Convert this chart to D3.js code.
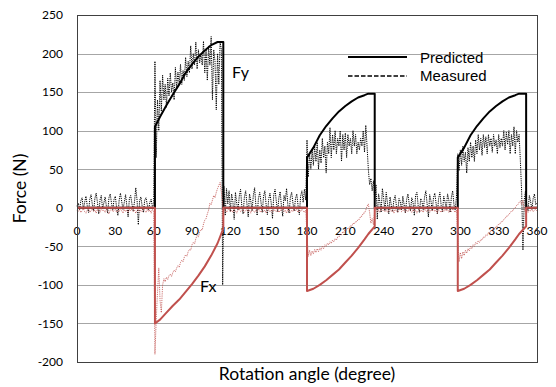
<!DOCTYPE html>
<html>
<head>
  <title>Force vs rotation angle</title>
  <style>
    body {
      margin: 0;
      background: #fff;
    }
    svg {
      display: block;
    }
    .tick-label {
      font: 12px Lato, sans-serif;
      fill: #000;
    }
    .axis-title {
      font: 17.5px Lato, sans-serif;
      fill: #000;
    }
    .curve-label {
      font: 16px Lato, sans-serif;
      fill: #000;
    }
    .legend-text {
      font: 15px "Liberation Sans", Arial, sans-serif;
      fill: #000;
    }
    .grid line {
      stroke: #a6a6a6;
      stroke-width: 1;
    }
  </style>
</head>
<body>
  <script src="https://d3js.org/d3.v7.min.js"></script>
  <script>
    const predAngles = [0, 61, 61, 65, 70, 75, 80, 85, 90, 95, 100, 105, 110, 114.5, 114.5,
      180, 180, 185, 190, 195, 200, 205, 210, 215, 220, 225, 228, 233, 233,
      298, 298, 303, 308, 313, 318, 323, 328, 333, 338, 343, 346, 351.5, 351.5, 360];
    const predFy = [0, 0, 105, 118, 133, 147, 160, 175, 186, 196, 204, 211, 215, 215, 0,
      0, 65, 78, 94, 106, 116, 125, 132, 138, 143, 146, 148, 148, 0,
      0, 65, 78, 94, 106, 116, 125, 132, 138, 143, 146, 148, 148, 0, 0];
    const predFx = [0, 0, -150, -145, -136, -127, -119, -109, -99, -88, -76, -62, -46, -27, 0,
      0, -108, -105, -100, -94, -87, -80, -71, -62, -52, -41, -34, -24, 0,
      0, -108, -105, -100, -94, -87, -80, -71, -62, -52, -41, -34, -24, 0, 0];

    // measured curves (dotted), one value per degree, 0..360
    const measuredFy = [
      2, 6, -3, 9, 13, -2, 7, 15, 3, -6,            // 0
      11, 17, 4, -4, 12, 19, 7, -8, 10, 16,         // 10
      -1, 6, 14, 2, -7, 13, 18, 6, -3, 11,          // 20
      15, 0, -10, 10, 19, 8, -2, 7, 17, 3,          // 30
      -12, 12, 16, 5, -4, 8, 26, 10, -22, 9,        // 40
      14, 2, -6, 10, 13, 4, -3, 7, 11, 2,           // 50
      3, 190, 65, 140, 100, 165, 125, 172, 140, 160, // 60
      130, 168, 145, 175, 150, 162, 140, 182, 155, 176, // 70
      160, 186, 160, 178, 165, 195, 170, 190, 175, 210, // 80
      180, 200, 185, 215, 180, 205, 188, 200, 185, 216, // 90
      175, 205, 165, 210, 185, 222, 140, 205, 190, 127, // 100
      200, 160, 215, 205, -100, 28, -10, 25, 5, 22,   // 110
      -5, 18, 8, -15, 20, 6, -3, 15, 24, 2,         // 120
      -8, 14, 22, 5, -12, 18, 9, -4, 16, 26,        // 130
      3, -10, 12, 20, 7, -6, 15, 22, 4, -9,         // 140
      11, 19, 6, -14, 17, 24, 8, -5, 13, 21,        // 150
      2, -11, 16, 9, 25, 4, -7, 14, 20, 6,          // 160
      -4, 12, 18, 3, -9, 15, 22, 7, 24, 10,         // 170
      88, 40, 70, 50, 75, 55, 80, 60, 85, 50,       // 180
      75, 58, 90, 65, 80, 45, 85, 70, 104, 65,      // 190
      95, 75, 100, 70, 90, 80, 100, 60, 95, 75,     // 200
      97, 65, 95, 80, 90, 70, 100, 80, 95, 70,      // 210
      85, 75, 90, 80, 100, 72, 107, 80, 50, 30,     // 220
      38, 22, 35, 10, 30, -15, 18, 8, -6, 25,       // 230
      12, -4, 20, 6, -8, 14, 3, -5, 10, 16,         // 240
      2, -6, 12, 8, -3, 15, 4, -7, 11, 18,          // 250
      5, -4, 13, 7, -10, 16, 20, 3, -6, 12,         // 260
      8, -3, 14, 22, 5, -12, 17, 9, -4, 13,         // 270
      19, 6, -8, 12, 20, 3, -5, 15, 8, -2,          // 280
      18, 10, -6, 14, 22, 4, -3, 15, 70, 48,        // 290
      75, 55, 80, 60, 72, 45, 78, 60, 85, 65,       // 300
      80, 60, 88, 70, 95, 75, 90, 68, 95, 78,       // 310
      92, 70, 95, 80, 90, 72, 95, 80, 88, 70,       // 320
      95, 78, 90, 80, 100, 75, 98, 82, 100, 70,     // 330
      95, 80, 105, 70, 100, 85, 95, 60, 20, -55,    // 340
      10, 22, 5, -4, 16, 8, -2, 12, 18, 4,          // 350
      6                                             // 360
    ];
    const measuredFx = [
      -3, -5, -2, -6, -4, -1, -5, -7, -3, -2,       // 0
      -6, -4, -1, -5, -3, -7, -2, -4, -6, -1,       // 10
      -4, -3, -6, -2, -5, -8, -3, -1, -5, -4,       // 20
      -2, -6, -3, -5, -1, -4, -7, -2, -5, -3,       // 30
      -6, -2, -4, -1, -5, -3, -7, -4, -2, -6,       // 40
      -3, -5, -1, -4, -6, -2, -5, -3, -7, -2,       // 50
      -4, -190, -145, -110, -78, -120, -136, -100, -92, -96, // 60
      -90, -93, -88, -86, -89, -84, -81, -83, -78, -75, // 70
      -77, -71, -68, -70, -64, -61, -63, -57, -54, -55, // 80
      -48, -45, -47, -40, -36, -38, -31, -28, -29, -21, // 90
      -16, -14, -8, -3, 6, 4, 10, 16, 13, 20,       // 100
      25, 29, 33, 20, 4, -4, -2, -6, -3, -1,        // 110
      -5, -3, -6, -2, -4, -7, -3, -1, -5, -4,       // 120
      -2, -6, -4, -1, -5, -3, -7, -2, -4, -6,       // 130
      -3, -5, -1, -4, -6, -2, -5, -3, -7, -4,       // 140
      -2, -5, -3, -6, -1, -4, -5, -2, -6, -3,       // 150
      -4, -1, -5, -3, -7, -2, -4, -6, -3, -5,       // 160
      -1, -4, -2, -6, -3, -5, -2, -4, -6, -3,       // 170
      -35, -63, -55, -62, -56, -60, -54, -58, -53, -57, // 180
      -52, -55, -50, -53, -48, -50, -46, -48, -44, -46, // 190
      -42, -44, -40, -42, -38, -38, -34, -35, -31, -32, // 200
      -28, -29, -26, -27, -23, -24, -20, -21, -18, -18, // 210
      -15, -15, -11, -11, -7, -7, -3, 2, 5, -6,     // 220
      -20, -14, -22, -4, -2, -5, -3, -6, -1, -4,    // 230
      -3, -5, -2, -6, -4, -1, -5, -3, -7, -2,       // 240
      -4, -6, -3, -1, -5, -4, -2, -6, -3, -5,       // 250
      -1, -4, -6, -2, -5, -3, -7, -4, -2, -5,       // 260
      -3, -6, -1, -4, -5, -2, -6, -3, -4, -1,       // 270
      -5, -3, -7, -2, -4, -6, -3, -5, -1, -4,       // 280
      -2, -6, -3, -5, -1, -4, -6, -3, -40, -70,     // 290
      -58, -66, -57, -62, -55, -59, -53, -56, -50, -53, // 300
      -48, -50, -45, -47, -43, -45, -41, -42, -38, -39, // 310
      -35, -36, -32, -33, -29, -30, -26, -27, -24, -24, // 320
      -21, -21, -18, -18, -15, -14, -11, -11, -8, -7, // 330
      -4, -4, -1, 0, 3, 4, 7, 9, 4, 10,             // 340
      -3, -5, -2, -6, -3, -4, -1, -5, -3, -2,       // 350
      -4                                            // 360
    ];

    const xTicks = [0, 30, 60, 90, 120, 150, 180, 210, 240, 270, 300, 330, 360];
    const yTicks = [-200, -150, -100, -50, 0, 50, 100, 150, 200, 250];

    const width = 556;
    const height = 387;
    const margin = { top: 15, right: 19, bottom: 25, left: 77 };

    const x = d3.scaleLinear()
      .domain([0, 360])
      .range([margin.left, width - margin.right]);

    const y = d3.scaleLinear()
      .domain([-200, 250])
      .range([height - margin.bottom, margin.top]);

    const red = "#c0504d";

    const svg = d3.select("body")
      .append("svg")
      .attr("width", width)
      .attr("height", height);

    // horizontal gridlines
    svg.append("g")
      .attr("class", "grid")
      .selectAll("line")
      .data(yTicks)
      .enter()
      .append("line")
      .attr("x1", x(0))
      .attr("x2", x(360))
      .attr("y1", d => Math.round(y(d)) + 0.5)
      .attr("y2", d => Math.round(y(d)) + 0.5);

    // y tick labels
    svg.append("g")
      .selectAll("text")
      .data(yTicks)
      .enter()
      .append("text")
      .attr("class", "tick-label")
      .attr("x", x(0) - 14)
      .attr("y", d => y(d))
      .attr("dy", "0.36em")
      .attr("text-anchor", "end")
      .text(d => d);

    // x tick labels, sitting under the zero line
    svg.append("g")
      .selectAll("text")
      .data(xTicks)
      .enter()
      .append("text")
      .attr("class", "tick-label")
      .attr("x", d => x(d))
      .attr("y", y(0) + 27)
      .attr("text-anchor", "middle")
      .text(d => d);

    const lineIdx = d3.line()
      .x((d, i) => x(i))
      .y(d => y(d));

    const linePred = series => d3.line()
      .x((d, i) => x(predAngles[i]))
      .y(d => y(d))(series);

    // measured Fy
    svg.append("path")
      .attr("d", lineIdx(measuredFy))
      .attr("fill", "none")
      .attr("stroke", "#000")
      .attr("stroke-width", 1)
      .attr("stroke-dasharray", "1.2,1");

    // predicted Fy
    svg.append("path")
      .attr("d", linePred(predFy))
      .attr("fill", "none")
      .attr("stroke", "#000")
      .attr("stroke-width", 2)
      .attr("stroke-linejoin", "round");

    // measured Fx
    svg.append("path")
      .attr("d", lineIdx(measuredFx))
      .attr("fill", "none")
      .attr("stroke", red)
      .attr("stroke-opacity", 0.8)
      .attr("stroke-width", 1)
      .attr("stroke-dasharray", "1.2,1");

    // predicted Fx
    svg.append("path")
      .attr("d", linePred(predFx))
      .attr("fill", "none")
      .attr("stroke", red)
      .attr("stroke-width", 2)
      .attr("stroke-linejoin", "round");

    // plot area border
    svg.append("rect")
      .attr("x", x(0) + 0.5)
      .attr("y", y(250) + 0.5)
      .attr("width", x(360) - x(0))
      .attr("height", y(-200) - y(250))
      .attr("fill", "none")
      .attr("stroke", "#404040")
      .attr("stroke-width", 1);

    // curve labels
    svg.append("text")
      .attr("class", "curve-label")
      .attr("x", 232)
      .attr("y", 78)
      .text("Fy");
    svg.append("text")
      .attr("class", "curve-label")
      .attr("x", 200)
      .attr("y", 292)
      .text("Fx");

    // legend
    const legend = svg.append("g");
    legend.append("line")
      .attr("x1", 348).attr("x2", 407)
      .attr("y1", 57).attr("y2", 57)
      .attr("stroke", "#000")
      .attr("stroke-width", 2);
    legend.append("line")
      .attr("x1", 348).attr("x2", 407)
      .attr("y1", 76).attr("y2", 76)
      .attr("stroke", "#000")
      .attr("stroke-width", 1.5)
      .attr("stroke-dasharray", "4.5,2");
    legend.append("text")
      .attr("class", "legend-text")
      .attr("x", 420).attr("y", 63)
      .text("Predicted");
    legend.append("text")
      .attr("class", "legend-text")
      .attr("x", 420).attr("y", 81)
      .text("Measured");

    // axis titles
    svg.append("text")
      .attr("class", "axis-title")
      .attr("text-anchor", "middle")
      .attr("transform", `translate(26,${(y(250) + y(-200)) / 2}) rotate(-90)`)
      .text("Force (N)");

    svg.append("text")
      .attr("class", "axis-title")
      .attr("text-anchor", "middle")
      .attr("x", 307)
      .attr("y", 380)
      .text("Rotation angle (degree)");
  </script>
</body>
</html>
